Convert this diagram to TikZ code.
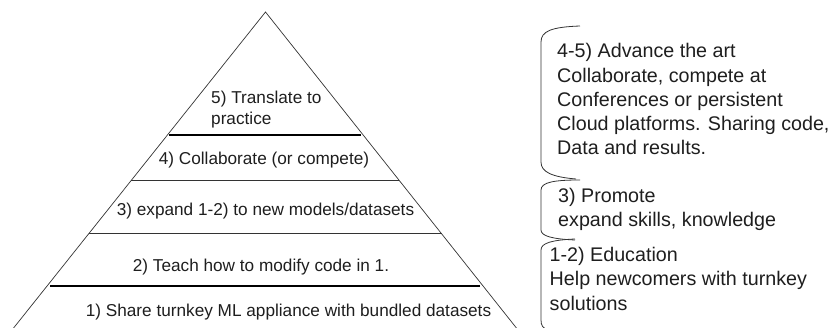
\documentclass[tikz,border=0pt]{standalone}
\usepackage{fontspec}
\setmainfont{Liberation Sans}
\usetikzlibrary{calc}
\definecolor{txt}{HTML}{1E1E1E}
\definecolor{edge}{HTML}{333333}
\begin{document}
\begin{tikzpicture}[x=1pt,y=-1pt,
  pyrtext/.style={inner sep=0pt,anchor=base,text=txt,font=\fontsize{17.2}{21}\selectfont},
  pyrleft/.style={pyrtext,anchor=base west},
  sidetext/.style={inner sep=0pt,anchor=base west,text=txt,font=\fontsize{19.7}{24}\selectfont},
  thinrule/.style={draw=edge,line width=0.8pt},
  thickrule/.style={draw=black,line width=2pt},
  bracket/.style={draw=edge,line width=0.8pt}]
\useasboundingbox (0,0) rectangle (836,328);
% pyramid
\coordinate (apex) at (265.5,12);
\coordinate (bl) at (12,330);
\coordinate (br) at (518,330);
\draw[draw=edge,line width=0.7pt] (bl) -- (apex) -- (br);
\coordinate (l1) at ($(apex)!0.3868!(bl)$);
\coordinate (r1) at ($(apex)!0.3868!(br)$);
\coordinate (l2) at ($(apex)!0.5292!(bl)$);
\coordinate (r2) at ($(apex)!0.5292!(br)$);
\coordinate (l3) at ($(apex)!0.6972!(bl)$);
\coordinate (r3) at ($(apex)!0.6972!(br)$);
\coordinate (l4) at ($(apex)!0.8616!(bl)$);
\coordinate (r4) at ($(apex)!0.8616!(br)$);
\draw[thickrule,shorten <=2pt,shorten >=2pt] (l1) -- (r1);
\draw[thinrule] (l2) -- (r2);
\draw[thinrule] (l3) -- (r3);
\draw[thickrule,shorten <=3pt,shorten >=3pt] (l4) -- (r4);
% pyramid labels
\node[pyrleft] (p5a) at (211,104) {5) Translate to};
\node[pyrleft] (p5b) at (211,125) {practice};
\node[pyrtext] (p4) at (264,165) {4) Collaborate (or compete)};
\node[pyrtext] (p3) at (265.5,215.5) {3) expand 1-2) to new models/datasets};
\node[pyrtext] (p2) at (261,271.5) {2) Teach how to modify code in 1.};
\node[pyrtext] (p1) at (288.5,317) {1) Share turnkey ML appliance with bundled datasets};
% brackets
\draw[bracket] (580,26) .. controls (552,27) and (541,31) .. (541,42) -- (541,162)
  .. controls (541,172) and (552,177) .. (576,179);
\draw[bracket] (580,180) .. controls (555,180) and (541,182) .. (541,190) -- (541,230)
  .. controls (541,236) and (552,239) .. (575,240);
\draw[bracket] (575,239) .. controls (552,240) and (541,243) .. (541,250) -- (541,320)
  .. controls (541,326) and (543,328) .. (548,330);
% side texts
\node[sidetext] (a1) at (557,58) {4-5) Advance the art};
\node[sidetext] (a2) at (557,82.25) {Collaborate, compete at};
\node[sidetext] (a3) at (557,106.5) {Conferences or persistent};
\node[sidetext] (a4) at (557,130.75) {Cloud platforms. Sharing code,};
\node[sidetext] (a5) at (557,155) {Data and results.};
\node[sidetext] (b1) at (558,203) {3) Promote};
\node[sidetext] (b2) at (558,227) {expand skills, knowledge};
\node[sidetext] (c1) at (549.5,261.7) {1-2) Education};
\node[sidetext] (c2) at (549.5,286) {Help newcomers with turnkey};
\node[sidetext] (c3) at (549.5,310.3) {solutions};
\end{tikzpicture}
\end{document}
